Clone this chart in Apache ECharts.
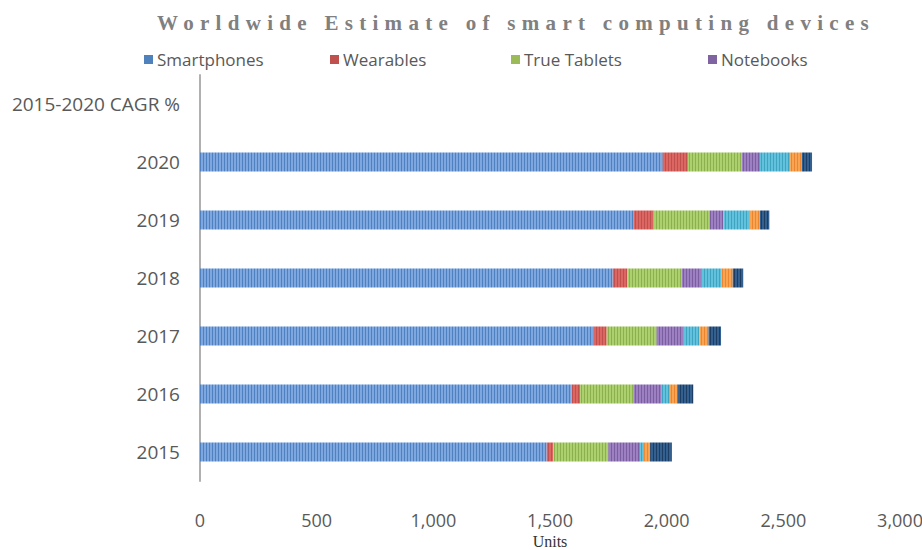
<!DOCTYPE html>
<html>
<head>
<meta charset="utf-8">
<script src="https://cdn.jsdelivr.net/npm/echarts@6/dist/echarts.min.js"></script>
<style>
  html, body { margin: 0; padding: 0; background: #ffffff; overflow: hidden; }
  #chart { width: 922px; height: 550px; }
  #chart text[style*="Liberation Serif"], #chart text[font-family*="Liberation Serif"] { letter-spacing: 6.3px; }
</style>
</head>
<body>
<div id="chart"></div>
<script>
// ---- data ----
var categories = ['2015', '2016', '2017', '2018', '2019', '2020', '2015-2020 CAGR %'];
var smartphones = [1486, 1593, 1686, 1769, 1857, 1983, null];
var wearables = [28, 36, 57, 62, 86, 108, null];
var trueTablets = [236, 228, 214, 233, 240, 232, null];
var notebooks = [136, 122, 114, 86, 60, 77, null];
var detachableTablets = [17, 35, 69, 86, 111, 129, null];
var desktops = [26, 32, 39, 47, 46, 50, null];
var workstations = [93, 68, 54, 45, 40, 44, null];
var xTicks = [0, 500, 1000, 1500, 2000, 2500, 3000];

var seriesNames = ['Smartphones', 'Wearables', 'True Tablets', 'Notebooks', 'Detachable Tablets', 'Desktops', 'Workstations'];
var seriesData = [smartphones, wearables, trueTablets, notebooks, detachableTablets, desktops, workstations];
var lightColors = ['#7ea7df', '#dc6662', '#acd06e', '#9c80c2', '#62c2dd', '#f9a452', '#34608f'];
var darkColors  = ['#4f80c0', '#c0504d', '#8db04e', '#7a5ea0', '#3fa4c0', '#ea8630', '#1e3d63'];
var legendColors = ['#4f81bd', '#c0504d', '#9bbb59', '#8064a2'];
var legendLeft = [144, 330, 511, 708];

function stripe(light, dark) {
  var c = document.createElement('canvas');
  c.width = 3; c.height = 4;
  var ctx = c.getContext('2d');
  ctx.fillStyle = light; ctx.fillRect(0, 0, 3, 4);
  ctx.fillStyle = dark; ctx.fillRect(2, 0, 1, 4);
  return { image: c, repeat: 'repeat', imageWidth: 3, imageHeight: 4 };
}

var chart = echarts.init(document.getElementById('chart'), null, { renderer: 'svg' });

var series = seriesNames.map(function (name, i) {
  return {
    name: name,
    type: 'bar',
    stack: 'total',
    barWidth: 19,
    data: seriesData[i],
    itemStyle: { color: stripe(lightColors[i], darkColors[i]) },
    emphasis: { disabled: true }
  };
});

var legends = seriesNames.slice(0, 4).map(function (n, i) {
  return {
    left: legendLeft[i],
    top: 51,
    padding: 0,
    itemWidth: 9,
    itemHeight: 9,
    itemGap: 0,
    icon: 'rect',
    selectedMode: false,
    textStyle: { fontFamily: 'Open Sans', fontSize: 17, color: '#595959', padding: [0, 0, 0, -1] },
    data: [{ name: n, itemStyle: { color: legendColors[i] } }]
  };
});

var option = {
  animation: false,
  backgroundColor: '#ffffff',
  graphic: [{
    type: 'text',
    x: 516,
    y: 23,
    style: {
      text: 'Worldwide Estimate of smart computing devices',
      fontFamily: 'Liberation Serif',
      fontWeight: 'bold',
      fontSize: 21,
      fill: '#808080',
      textAlign: 'center',
      textVerticalAlign: 'middle'
    }
  }],
  legend: legends,
  grid: { left: 200, right: 22, top: 75, bottom: 69, containLabel: false, outerBoundsMode: 'none' },
  xAxis: {
    type: 'value',
    min: xTicks[0],
    max: xTicks[xTicks.length - 1],
    interval: xTicks[1] - xTicks[0],
    name: 'Units',
    nameLocation: 'middle',
    nameGap: 50,
    nameTextStyle: { fontFamily: 'Times New Roman, serif', fontSize: 16, color: '#333333', lineHeight: 16 },
    axisLine: { show: false },
    axisTick: { show: false },
    splitLine: { show: false },
    axisLabel: {
      margin: 30,
      fontFamily: 'Open Sans',
      fontSize: 18,
      color: '#595959',
      formatter: function (v) { return v.toLocaleString('en-US'); }
    }
  },
  yAxis: {
    type: 'category',
    data: categories,
    axisLine: { show: true, lineStyle: { color: '#b0b0b0', width: 2 } },
    axisTick: { show: false },
    splitLine: { show: false },
    axisLabel: { margin: 20, fontFamily: 'Open Sans', fontSize: 19, color: '#595959' }
  },
  series: series
};

chart.setOption(option);
</script>
</body>
</html>
